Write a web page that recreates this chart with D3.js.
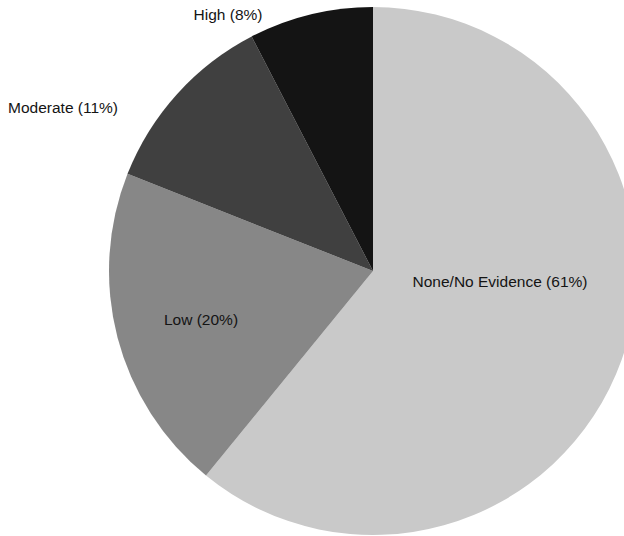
<!DOCTYPE html>
<html>
<head>
<meta charset="utf-8">
<script src="https://cdn.jsdelivr.net/npm/d3@7"></script>
<style>
  html, body { margin: 0; padding: 0; background: #ffffff; }
  svg { display: block; }
</style>
</head>
<body>
<svg id="chart" width="624" height="536"></svg>
<script>
// Data
const categories = ["None/No Evidence", "Low", "Moderate", "High"];
// slice sizes
const sliceValues = [60.9, 20.1, 11.4, 7.6];
// percentages as printed in the labels
const labelPercents = [61, 20, 11, 8];
const sliceColors = ["#c9c9c9", "#878787", "#404040", "#141414"];

// Layout (label anchor offsets from pie centre, in px)
const labelOffsets = [[127, 16], [-172, 54], [-310, -158], [-145, -251]];

const width = 624, height = 536;
const cx = 373, cy = 271, radius = 264;

const svg = d3.select("#chart");
const g = svg.append("g").attr("transform", `translate(${cx},${cy})`);

const pie = d3.pie().sort(null).value(d => d.value);
const arc = d3.arc().innerRadius(0).outerRadius(radius);

const data = categories.map((c, i) => ({
  name: c, value: sliceValues[i], pct: labelPercents[i], color: sliceColors[i]
}));
const arcs = pie(data);

g.selectAll("path.slice")
  .data(arcs)
  .enter().append("path")
  .attr("class", "slice")
  .attr("d", arc)
  .attr("fill", d => d.data.color);

g.selectAll("text.lbl")
  .data(arcs)
  .enter().append("text")
  .attr("class", "lbl")
  .attr("x", (d, i) => labelOffsets[i][0])
  .attr("y", (d, i) => labelOffsets[i][1])
  .attr("text-anchor", "middle")
  .attr("font-family", "'Liberation Sans', Arial, Helvetica, sans-serif")
  .attr("font-size", "15.5px")
  .attr("fill", "#141414")
  .text(d => `${d.data.name} (${d.data.pct}%)`);
</script>
</body>
</html>
